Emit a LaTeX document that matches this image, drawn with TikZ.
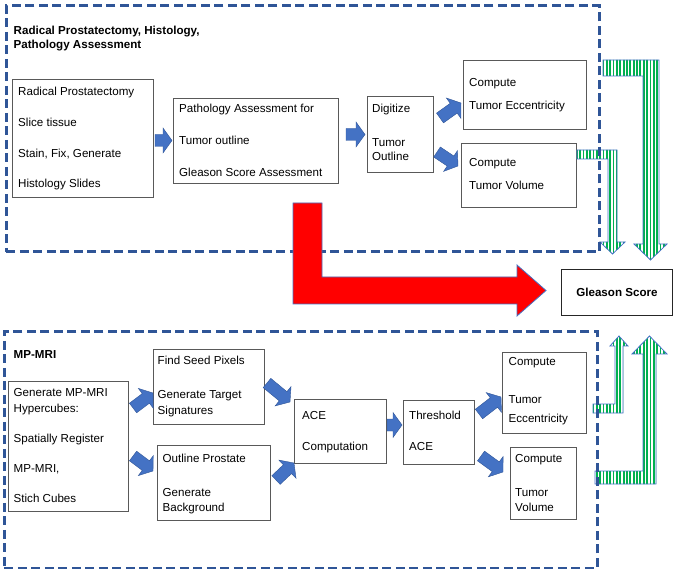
\documentclass[tikz,border=0pt]{standalone}
\usepackage{fontspec}
\setmainfont{Liberation Sans}
\usetikzlibrary{calc}
\definecolor{abl}{HTML}{4472C4}
\definecolor{dbl}{HTML}{2F5597}
\definecolor{grn}{HTML}{00B050}
\definecolor{bgr}{HTML}{595959}
\newcommand\blockarrow[3]{% name, tail, tip
  \coordinate (#1h) at ($(#3)!9pt!(#2)$);
  \filldraw[fill=abl, draw=dbl, line width=0.4pt, line join=miter]
    ($(#2)!6pt!90:(#3)$) -- ($(#1h)!6pt!90:(#3)$) -- ($(#1h)!12.5pt!90:(#3)$) -- (#3)
    -- ($(#1h)!12.5pt!-90:(#3)$) -- ($(#1h)!6pt!-90:(#3)$) -- ($(#2)!6pt!-90:(#3)$) -- cycle;}
\newcommand\stripedarrow[1]{%
  \begin{scope}
    \clip #1;
    \fill[white] #1;
    \foreach \x in {570,573.35,...,675} \draw[grn, line width=1.8pt] (\x,40) -- (\x,520);
  \end{scope}
  \draw[abl, line width=0.8pt, line join=miter] #1;}
\begin{document}
\begin{tikzpicture}[x=1pt,y=-1pt,
  font=\fontsize{11.6}{14}\selectfont,
  box/.style={draw=bgr, line width=0.9pt, anchor=north west, inner sep=0pt},
  tx/.style={anchor=base west, inner sep=0pt},
  ttl/.style={anchor=base west, inner sep=0pt, font=\fontsize{11.6}{14}\selectfont\bfseries},
  group/.style={draw=dbl, line width=2.6pt, dash pattern=on 9pt off 4.5pt, anchor=north west, inner sep=0pt},
  rarrow/.style={fill=red, draw=abl, line width=0.8pt}]
\useasboundingbox (0,0) rectangle (675,569);

% ---------- top section boxes ----------
\node[box, minimum width=141pt, minimum height=118pt] (b1) at (12,79) {};
\node[tx] (b1a) at (18,96) {Radical Prostatectomy};
\node[tx] (b1b) at (18,127) {Slice tissue};
\node[tx] (b1c) at (18,158) {Stain, Fix, Generate};
\node[tx] (b1d) at (18,188) {Histology Slides};

\node[box, minimum width=165pt, minimum height=85pt] (b2) at (173,98) {};
\node[tx] (b2a) at (179,113) {Pathology Assessment for};
\node[tx] (b2b) at (179,145) {Tumor outline};
\node[tx] (b2c) at (179,177) {Gleason Score Assessment};

\node[box, minimum width=66pt, minimum height=76pt] (b3) at (367,96) {};
\node[tx] (b3a) at (372,112.5) {Digitize};
\node[tx] (b3b) at (372,146.5) {Tumor};
\node[tx] (b3c) at (372,161) {Outline};

\node[box, minimum width=123pt, minimum height=69pt] (b4) at (463,60) {};
\node[tx] (b4a) at (469,86.5) {Compute};
\node[tx] (b4b) at (469,110) {Tumor Eccentricity};

\node[box, minimum width=115pt, minimum height=64pt] (b5) at (461,143) {};
\node[tx] (b5a) at (469,167) {Compute};
\node[tx] (b5b) at (469,190) {Tumor Volume};

\node[ttl] (t1a) at (13.5,34.5) {Radical Prostatectomy, Histology,};
\node[ttl] (t1b) at (13.5,49) {Pathology Assessment};

% ---------- Gleason ----------
\node[box, draw=black!85, minimum width=111pt, minimum height=46pt, font=\fontsize{11.6}{14}\selectfont\bfseries] (gs) at (561,269) {Gleason Score};

% ---------- bottom section boxes ----------
\node[ttl] (t2) at (13.5,359) {MP-MRI};

\node[box, minimum width=120pt, minimum height=130pt] (c1) at (8,381) {};
\node[tx] (c1a) at (13.5,396) {Generate MP-MRI};
\node[tx] (c1b) at (13.5,412) {Hypercubes:};
\node[tx] (c1c) at (13.5,442) {Spatially Register};
\node[tx] (c1d) at (13.5,472) {MP-MRI,};
\node[tx] (c1e) at (13.5,502.5) {Stich Cubes};

\node[box, minimum width=111pt, minimum height=75pt] (c2) at (153,349) {};
\node[tx] (c2a) at (157.5,365) {Find Seed Pixels};
\node[tx] (c2b) at (157.5,399) {Generate Target};
\node[tx] (c2c) at (157.5,414) {Signatures};

\node[box, minimum width=113pt, minimum height=75pt] (c3) at (157,445) {};
\node[tx] (c3a) at (162.5,462) {Outline Prostate};
\node[tx] (c3b) at (162.5,496) {Generate};
\node[tx] (c3c) at (162.5,511) {Background};

\node[box, minimum width=92pt, minimum height=64pt] (c4) at (294,399) {};
\node[tx] (c4a) at (302,420) {ACE};
\node[tx] (c4b) at (302,450) {Computation};

\node[box, minimum width=71pt, minimum height=64pt] (c5) at (403,400) {};
\node[tx] (c5a) at (409,419.5) {Threshold};
\node[tx] (c5b) at (409,450) {ACE};

\node[box, minimum width=84pt, minimum height=81pt] (c6) at (502,352) {};
\node[tx] (c6a) at (508.5,366) {Compute};
\node[tx] (c6b) at (508.5,403.5) {Tumor};
\node[tx] (c6c) at (508.5,422) {Eccentricity};

\node[box, minimum width=66pt, minimum height=72pt] (c7) at (510,447) {};
\node[tx] (c7a) at (515,462) {Compute};
\node[tx] (c7b) at (515,496) {Tumor};
\node[tx] (c7c) at (515,511) {Volume};

% ---------- blue block arrows ----------
\coordinate (a1s) at (155,140.5); \coordinate (a1e) at (172,140.5);
\coordinate (a2s) at (346,134.5); \coordinate (a2e) at (365,134.5);
\coordinate (a3s) at (440,118);   \coordinate (a3e) at (461,103);
\coordinate (a4s) at (437,152);   \coordinate (a4e) at (458,166);
\coordinate (d1s) at (133,408);   \coordinate (d1e) at (153,393);
\coordinate (d2s) at (133,456);   \coordinate (d2e) at (153,471);
\coordinate (d3s) at (267,383);   \coordinate (d3e) at (290,402);
\coordinate (d4s) at (276,480);   \coordinate (d4e) at (294,463);
\coordinate (d5s) at (387,425);   \coordinate (d5e) at (402,425);
\coordinate (d6s) at (479,414);   \coordinate (d6e) at (501,397);
\coordinate (d7s) at (481,456);   \coordinate (d7e) at (503,472);
\foreach \n in {a1,a2,a3,a4,d1,d2,d3,d4,d5,d6,d7}
  {\blockarrow{\n}{\n s}{\n e}}

% ---------- green striped arrows ----------
\stripedarrow{(603,60) -- (659,60) -- (659,244) -- (667,244) -- (650.5,260) -- (634,244) -- (643,244) -- (643,76) -- (603,76) -- cycle}
\stripedarrow{(b5.east |- 0,150) -- (617,150) -- (617,242) -- (625,242) -- (612.5,254) -- (600,242) -- (608,242) -- (608,159) -- (b5.east |- 0,159) -- cycle}
\stripedarrow{(593,413) -- (623,413) -- (623,346) -- (628,346) -- (619,336) -- (610,346) -- (615,346) -- (615,404) -- (593,404) -- cycle}
\stripedarrow{(595,484) -- (656,484) -- (656,354) -- (667,354) -- (649.5,336) -- (632,354) -- (643,354) -- (643,471) -- (595,471) -- cycle}

% ---------- dashed groups ----------
\node[group, minimum width=593pt, minimum height=246pt] (g1) at (5,4.5) {};
\node[group, minimum width=593pt, minimum height=236pt] (g2) at (3,330.5) {};

% ---------- red arrow ----------
\draw[rarrow] (293,203) -- (322,203) -- (322,277) -- (517,277) -- (517,265) -- (546,290.5) -- (517,316) -- (517,304) -- (293,304) -- cycle;
\end{tikzpicture}
\end{document}
